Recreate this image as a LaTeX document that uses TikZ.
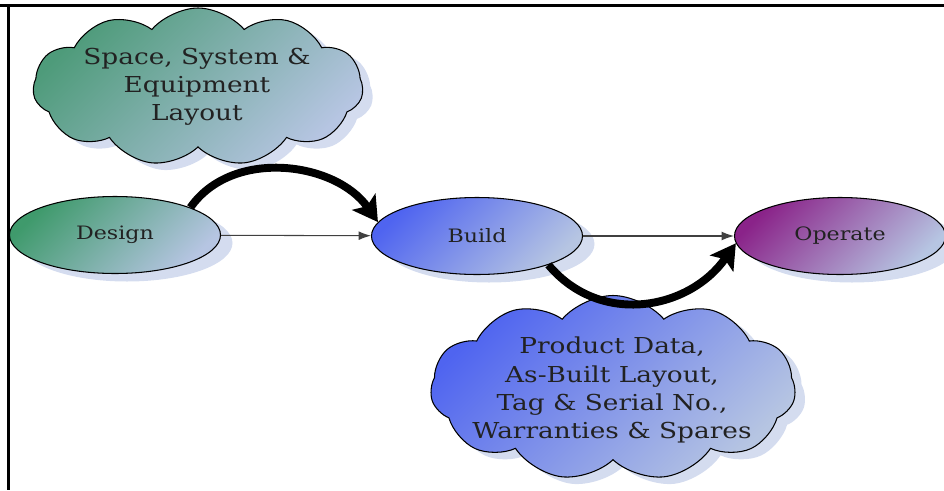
\documentclass[tikz,border=0pt]{standalone}
\usepackage{fontspec}
\setmainfont[FakeStretch=1.2]{DejaVu Serif}
\usetikzlibrary{shapes.geometric,shapes.symbols,shadows,arrows.meta}
\definecolor{designgreen}{HTML}{3F9A6C}
\definecolor{cloudgreen}{HTML}{4E9B7A}
\definecolor{buildblue}{HTML}{4F64F0}
\definecolor{operatepurple}{HTML}{8A2389}
\definecolor{paleblue}{HTML}{B6C5E2}
\definecolor{shadowblue}{HTML}{D4DCEF}
\definecolor{inkgray}{HTML}{222222}

\begin{document}
\begin{tikzpicture}
		\tikzstyle{phase}=[ellipse,draw,semithick,minimum width=4.22cm,minimum height=1.54cm,inner sep=0pt,text=inkgray,font=\fontsize{10.5}{13}\selectfont,drop shadow={shadow xshift=0.24cm,shadow yshift=-0.16cm,fill=shadowblue,opacity=1}]
		\tikzstyle{note}=[cloud,draw,semithick,cloud puffs=11,cloud puff arc=100,cloud ignores aspect,inner sep=0pt,drop shadow={shadow xshift=0.2cm,shadow yshift=-0.14cm,fill=shadowblue,opacity=1}]
		\tikzstyle{notetext}=[align=center,text=inkgray,font=\fontsize{12.5}{16}\selectfont]
		\tikzstyle{flow}=[semithick,black!75,-{Latex[length=7pt,width=5pt]}]
		\tikzstyle{handover}=[line width=4.5pt,-{Stealth[length=14pt,width=16pt,inset=3pt]}]

		\useasboundingbox (0,0) rectangle (18.88,9.8);
		\draw[line width=1.8pt] (0,9.69) -- (18.88,9.69);
		\draw[line width=1.8pt] (0.17,9.69) -- (0.17,0);

		\node[note,minimum width=6.6cm,minimum height=3.16cm,left color=cloudgreen,right color=paleblue,shading angle=45] (space) at (3.96,8.06) {};
		\node[notetext] (spacetext) at (3.94,8.06) {Space, System \&\\Equipment\\Layout};
		\node[note,minimum width=7.3cm,minimum height=3.7cm,left color=buildblue,right color=paleblue,shading angle=45] (data) at (12.26,2.04) {};
		\node[notetext] (datatext) at (12.24,2.0) {Product Data,\\As-Built Layout,\\Tag \& Serial No.,\\Warranties \& Spares};

		\node[phase,left color=designgreen,right color=paleblue,shading angle=45] (design) at (2.30,5.10) {Design};
		\node[phase,left color=buildblue,right color=paleblue,shading angle=45] (build) at (9.54,5.08) {Build};
		\node[phase,left color=operatepurple,right color=paleblue,shading angle=45] (operate) at (16.80,5.08) {Operate};

		\draw[flow] (design) -- (build);
		\draw[flow] (build) -- (operate);

		\draw[handover] (design.20) to[out=55,in=125] (build.172);
		\draw[handover] (build.-22) to[out=-50,in=-125,looseness=1.1] (operate.184);
	\end{tikzpicture}
\end{document}
